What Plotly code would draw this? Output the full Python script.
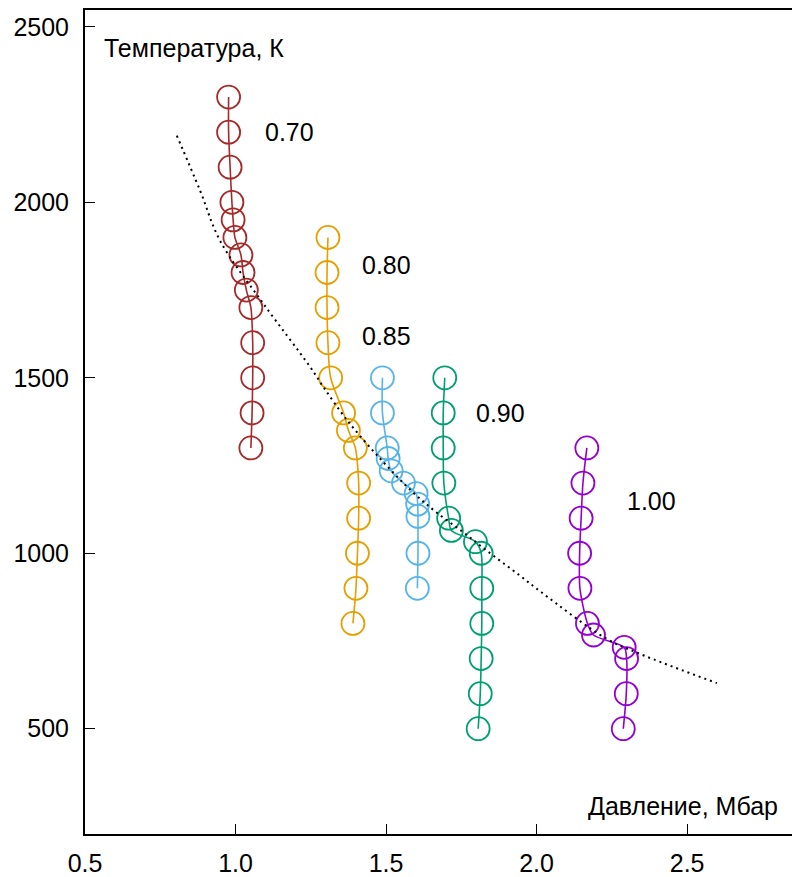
import plotly.graph_objects as go

# ---- data (pressure, Mbar ; temperature, K) ----
p070 = [0.977, 0.977, 0.982, 0.988, 0.992, 0.998, 1.018, 1.025, 1.036, 1.051, 1.057, 1.057, 1.055, 1.051]
t070 = [2300, 2200, 2100, 2000, 1950, 1900, 1850, 1800, 1750, 1700, 1600, 1500, 1400, 1300]

p080 = [1.307, 1.304, 1.304, 1.307, 1.316, 1.359, 1.375, 1.398, 1.409, 1.409, 1.405, 1.400, 1.390]
t080 = [1900, 1800, 1700, 1600, 1500, 1400, 1350, 1300, 1200, 1100, 1000, 900, 800]

p085 = [1.488, 1.488, 1.504, 1.507, 1.517, 1.558, 1.600, 1.605, 1.606, 1.606, 1.604]
t085 = [1500, 1400, 1300, 1270, 1235, 1200, 1170, 1140, 1105, 1000, 900]

p090 = [1.695, 1.690, 1.690, 1.692, 1.708, 1.717, 1.797, 1.816, 1.818, 1.818, 1.816, 1.813, 1.806]
t090 = [1500, 1400, 1300, 1200, 1100, 1065, 1033, 1000, 900, 800, 700, 600, 500]

p100 = [2.167, 2.154, 2.148, 2.143, 2.144, 2.169, 2.189, 2.291, 2.299, 2.298, 2.288]
t100 = [1300, 1200, 1100, 1000, 900, 800, 767, 732, 700, 600, 500]

p_melt = [0.805, 0.882, 0.949, 1.091, 1.247, 1.291, 1.369, 1.480, 1.590, 1.668, 1.756, 1.835, 1.945, 2.017, 2.233, 2.344, 2.599]
t_melt = [2190, 2034, 1890, 1713, 1532, 1475, 1381, 1270, 1173, 1116, 1060, 1007, 936, 888, 756, 713, 630]

labels = ["0.70", "0.80", "0.85", "0.90", "1.00"]
label_p = [1.18, 1.50, 1.50, 1.88, 2.383]
label_t = [2200, 1822, 1619, 1401, 1150]

x_ticks = [0.5, 1.0, 1.5, 2.0, 2.5]
x_ticktext = ["0.5", "1.0", "1.5", "2.0", "2.5"]
y_ticks = [500, 1000, 1500, 2000, 2500]

series = [
    (p070, t070, "#A52A2A"),
    (p080, t080, "#E69F00"),
    (p085, t085, "#56B4E9"),
    (p090, t090, "#009E73"),
    (p100, t100, "#9400D3"),
]

FONT = "Liberation Sans, Arial, Helvetica, sans-serif"
FS = 25

fig = go.Figure()
for px, ty, col in series:
    fig.add_trace(go.Scatter(
        x=px, y=ty, mode="lines+markers",
        line=dict(color=col, width=1.6, shape="spline", smoothing=0.8),
        marker=dict(symbol="circle-open", size=23, color=col, line=dict(width=1.8, color=col)),
        showlegend=False, hoverinfo="skip",
    ))

fig.add_trace(go.Scatter(
    x=p_melt, y=t_melt, mode="lines",
    line=dict(color="black", width=2, dash="2px,4px", shape="spline"),
    showlegend=False, hoverinfo="skip",
))

annotations = []
for txt, xx, yy in zip(labels, label_p, label_t):
    annotations.append(dict(x=xx, y=yy, text=txt, showarrow=False,
                            xanchor="center", yanchor="middle",
                            font=dict(size=FS, color="black", family=FONT)))
annotations.append(dict(x=0.556, y=2441, text="Температура, К", showarrow=False,
                        xanchor="left", yanchor="middle",
                        font=dict(size=FS, color="black", family=FONT)))
annotations.append(dict(x=2.809, y=280, text="Давление, Мбар", showarrow=False,
                        xanchor="right", yanchor="middle",
                        font=dict(size=FS, color="black", family=FONT)))

fig.update_layout(
    width=792, height=869,
    margin=dict(l=77, r=0, t=0, b=41, pad=0),
    paper_bgcolor="white", plot_bgcolor="white",
    font=dict(family=FONT, size=FS, color="black"),
    annotations=annotations,
    xaxis=dict(range=[0.5, 2.875], tickvals=x_ticks, ticktext=x_ticktext,
               ticks="inside", ticklen=10, tickwidth=1, tickcolor="black",
               showline=True, linecolor="black", linewidth=2, mirror=True,
               showgrid=False, zeroline=False,
               tickfont=dict(size=FS, family=FONT), ticklabelstandoff=6),
    yaxis=dict(range=[200, 2548], tickvals=y_ticks,
               ticks="inside", ticklen=10, tickwidth=1, tickcolor="black",
               showline=True, linecolor="black", linewidth=2, mirror=False,
               showgrid=False, zeroline=False,
               tickfont=dict(size=FS, family=FONT), ticklabelstandoff=9),
)

fig.write_html("out.html")
